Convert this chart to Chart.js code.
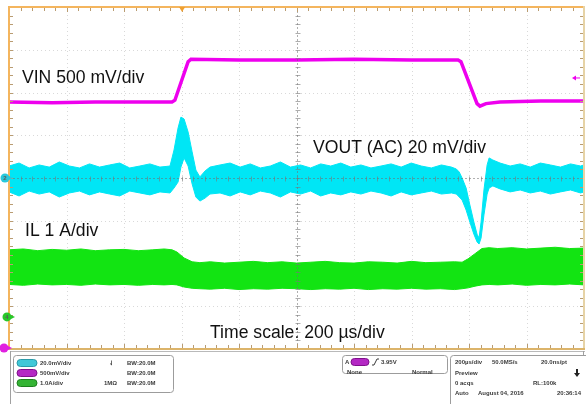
<!DOCTYPE html>
<html><head><meta charset="utf-8">
<script src="https://cdn.jsdelivr.net/npm/chart.js@4/dist/chart.umd.min.js"></script>
<style>html,body{margin:0;padding:0;background:#fff;overflow:hidden}#wrap{position:relative;width:586px;height:404px}</style>
</head><body><div id="wrap"><canvas id="c" width="586" height="404"></canvas></div>
<script>
// ---- time base (µs) ----
const vinTime  = [0,150,300,450,567,577,623,633,800,1000,1200,1400,1562,1572,1628,1638,1659,1708,1850,2000];
const vinVolts = [3.67,3.66,3.67,3.67,3.67,3.69,4.14,4.17,4.16,4.16,4.17,4.16,4.16,4.14,3.65,3.62,3.65,3.67,3.68,3.68];

const voutTime  = [0,35,70,105,140,175,210,245,280,315,350,385,420,455,490,525,560,
  574,588,598,609,623,637,650,664,682,699,
  734,769,804,839,874,909,944,979,1014,1049,1084,1119,1154,1189,1224,1259,1294,1329,1364,1399,1434,1469,1504,1539,
  1556,1566,1576,1590,1603,1617,1628,1635,1642,1652,1663,1670,1683,
  1708,1743,1778,1813,1848,1883,1918,1953,1988,2000];
const voutUpper = [5.6,7.0,4.7,6.1,5.1,7.5,5.6,4.7,6.6,5.1,6.1,7.0,4.7,5.6,6.6,5.1,5.6,
  13.1,23.4,28.5,27.6,21.5,12.2,3.7,0.5,3.3,5.1,
  6.1,7.0,5.1,6.6,4.7,5.6,7.5,5.1,6.1,4.7,6.6,5.6,7.0,5.1,6.1,4.7,5.6,6.6,5.1,7.0,5.6,4.7,6.1,5.1,
  4.2,2.8,0.0,-4.7,-12.6,-20.6,-26.3,-28.1,-20.6,-5.6,6.1,9.4,8.4,
  7.0,5.6,6.6,5.1,7.0,6.1,5.1,6.6,5.6,6.1];
const voutLower = [-6.5,-8.4,-6.1,-7.5,-6.5,-8.9,-7.0,-6.1,-7.9,-6.5,-7.5,-8.4,-6.1,-7.0,-7.9,-6.5,-7.0,
  -4.7,-1.9,5.1,9.4,5.6,-2.8,-8.9,-10.8,-9.4,-7.5,
  -7.0,-8.4,-6.5,-7.9,-6.1,-7.0,-8.9,-6.5,-7.5,-6.1,-8.4,-7.0,-7.9,-6.5,-7.5,-6.1,-7.0,-8.4,-6.5,-7.9,-7.0,-6.1,-7.5,-7.0,
  -7.5,-8.9,-10.3,-15.0,-20.6,-26.3,-29.9,-30.9,-28.1,-17.3,-7.5,-4.7,-3.7,
  -5.1,-6.5,-5.6,-7.0,-6.1,-7.5,-6.5,-5.6,-7.0,-6.5];

const ilTime  = [0,50,100,150,200,250,300,350,400,450,500,540,
  567,584,609,637,664,
  700,750,800,850,900,950,1000,1050,1100,1150,1200,1250,1300,1350,1400,1450,1500,1550,
  1576,1597,1621,1645,1670,
  1700,1750,1800,1850,1900,1950,2000];
const ilUpper = [1.57,1.59,1.55,1.58,1.56,1.59,1.55,1.57,1.58,1.55,1.57,1.59,
  1.57,1.52,1.38,1.29,1.27,
  1.29,1.26,1.28,1.30,1.27,1.29,1.26,1.28,1.30,1.27,1.26,1.29,1.28,1.26,1.30,1.27,1.28,1.29,
  1.28,1.36,1.48,1.60,1.62,
  1.60,1.62,1.59,1.61,1.63,1.60,1.61];
const ilLower = [0.76,0.74,0.77,0.75,0.76,0.74,0.77,0.75,0.76,0.74,0.76,0.75,
  0.76,0.75,0.70,0.67,0.66,
  0.65,0.67,0.64,0.66,0.65,0.67,0.66,0.64,0.66,0.65,0.67,0.64,0.66,0.65,0.67,0.65,0.66,0.64,
  0.66,0.68,0.72,0.75,0.76,
  0.75,0.77,0.74,0.76,0.75,0.77,0.75];

const labels = ["VIN 500 mV/div","VOUT (AC) 20 mV/div","IL 1 A/div","Time scale: 200 \u00B5s/div"];
const triggerLevelV = 3.95;
const triggerTimeUs = 602;

const pts = (xs, ys) => xs.map((t,i)=>({x:t,y:ys[i]}));
const CYAN='#00e6f5', GREEN='#12e412', MAG='#ee00ee';

const scope = {
  id:'scope',
  beforeDatasetsDraw(chart){
    const {ctx, chartArea:a, scales} = chart; const x=scales.x, y=scales.yv;
    ctx.save();
    ctx.strokeStyle='rgba(170,170,170,0.45)'; ctx.lineWidth=1; ctx.setLineDash([1,3]);
    for(let t=200;t<2000;t+=200){ if(t===1000) continue; const p=Math.round(x.getPixelForValue(t))+0.5; ctx.beginPath(); ctx.moveTo(p,a.top); ctx.lineTo(p,a.bottom); ctx.stroke(); }
    for(let v=-60;v<=60;v+=20){ if(v===0) continue; const p=Math.round(y.getPixelForValue(v))+0.5; ctx.beginPath(); ctx.moveTo(a.left,p); ctx.lineTo(a.right,p); ctx.stroke(); }
    ctx.restore();
  },
  afterDatasetsDraw(chart){
    const {ctx, chartArea:a, scales} = chart; const x=scales.x, y=scales.yv, yi=scales.yi, yin=scales.yin;
    ctx.save();
    // center cross
    const cx=Math.round(x.getPixelForValue(1000))+0.5, cy=Math.round(y.getPixelForValue(0))+0.5;
    ctx.strokeStyle='rgba(110,110,110,0.55)'; ctx.lineWidth=1; ctx.setLineDash([2,2]);
    ctx.beginPath(); ctx.moveTo(cx,a.top); ctx.lineTo(cx,a.bottom); ctx.moveTo(a.left,cy); ctx.lineTo(a.right,cy); ctx.stroke();
    ctx.setLineDash([]); ctx.strokeStyle='rgba(120,120,120,0.6)';
    ctx.beginPath();
    for(let t=0;t<=2000;t+=40){ const p=Math.round(x.getPixelForValue(t))+0.5; ctx.moveTo(p,cy-2); ctx.lineTo(p,cy+3); }
    for(let v=-80;v<=80;v+=4){ const p=Math.round(y.getPixelForValue(v))+0.5; ctx.moveTo(cx-2,p); ctx.lineTo(cx+3,p); }
    ctx.stroke();
    // frame
    ctx.fillStyle='#f4b55e'; ctx.fillRect(a.left-1,a.top-1,a.width,2); ctx.fillRect(a.left-1,a.top-1,2,a.height+2);
    ctx.fillStyle='#e6d3a6'; ctx.fillRect(a.right-1,a.top-1,2,a.height+2);
    ctx.fillStyle='#dcb46a'; ctx.fillRect(a.left-1,a.bottom-1,a.width+2,2);
    ctx.fillStyle='#b9b9b9'; ctx.fillRect(a.left+1,a.bottom+2,a.width,1);
    ctx.strokeStyle='#b99c72'; ctx.beginPath();
    for(let t=40;t<2000;t+=40){ const p=Math.round(x.getPixelForValue(t))+0.5; ctx.moveTo(p,a.top+1); ctx.lineTo(p,a.top+(t%200===0?5:4)); ctx.moveTo(p,a.bottom-1); ctx.lineTo(p,a.bottom-(t%200===0?5:4)); }
    for(let v=-76;v<80;v+=4){ const p=Math.round(y.getPixelForValue(v))+0.5; ctx.moveTo(a.left+1,p); ctx.lineTo(a.left+4,p); ctx.moveTo(a.right-1,p); ctx.lineTo(a.right-4,p); }
    ctx.stroke();
    // channel markers
    const mark=(mx,my,col,txt)=>{ ctx.fillStyle=col; ctx.beginPath(); ctx.arc(mx,my,4.5,0,Math.PI*2); ctx.fill(); ctx.beginPath(); ctx.moveTo(mx+4,my-2); ctx.lineTo(mx+8,my); ctx.lineTo(mx+4,my+2); ctx.fill(); if(txt){ctx.fillStyle='#5a5a5a'; ctx.font='bold 6px "Liberation Sans"'; ctx.textAlign='center'; ctx.textBaseline='middle'; ctx.fillText(txt,mx,my+0.5); ctx.textAlign='left';} };
    mark(5,y.getPixelForValue(0),'#28c8dc','2');
    mark(7,yi.getPixelForValue(0),'#28c828','4');
    mark(4,a.bottom-1,'#e020e0','');
    // trigger position marker
    const tp=x.getPixelForValue(triggerTimeUs);
    ctx.fillStyle='#f0a030'; ctx.beginPath(); ctx.moveTo(tp-3,a.top); ctx.lineTo(tp+3,a.top); ctx.lineTo(tp,a.top+5); ctx.fill();
    // trigger level marker
    const tl=yin.getPixelForValue(triggerLevelV);
    ctx.fillStyle=MAG; ctx.beginPath(); ctx.moveTo(572,tl); ctx.lineTo(576,tl-2.5); ctx.lineTo(576,tl+2.5); ctx.fill(); ctx.fillRect(576,tl-0.5,4,1);
    // labels
    ctx.fillStyle='#111'; ctx.font='17.6px "Liberation Sans", Arial, sans-serif'; ctx.textBaseline='alphabetic'; ctx.textAlign='left';
    ctx.fillText(labels[0],22,83);
    ctx.fillText(labels[1],313,152.5);
    ctx.fillText(labels[2],25,236);
    ctx.fillText(labels[3],210,337.5);
    // bottom status panel
    ctx.fillStyle='#a0a0a0'; ctx.fillRect(10,351,1,53); ctx.fillRect(a.right-1,351,1,53);
    const box=(bx,by,bw,bh)=>{ ctx.fillStyle='#fff'; ctx.strokeStyle='#9c9c9c'; ctx.lineWidth=1; ctx.beginPath(); ctx.roundRect(bx+0.5,by+0.5,bw,bh,3); ctx.fill(); ctx.stroke(); };
    const pill=(px,py,col,dark)=>{ ctx.fillStyle=col; ctx.strokeStyle=dark; ctx.beginPath(); ctx.roundRect(px,py-3.5,20,7,3.5); ctx.fill(); ctx.stroke(); };
    box(13,355,160,37); box(342,355,105,18); box(450,355,150,60);
    pill(17,363,'#40c8d8','#2a9aa8'); pill(17,373,'#b428c4','#80108c'); pill(17,383,'#34b434','#1e801e');
    ctx.font='bold 6px "Liberation Sans", Arial, sans-serif'; ctx.fillStyle='#3a3a3a'; ctx.textBaseline='middle';
    const T=(s,tx,ty)=>ctx.fillText(s,tx,ty);
    T('20.0mV/div',40,363); T('500mV/div',40,373); T('1.0A/div',40,383);
    T('\u21C3',109,363); T('1M\u03A9',104,383);
    T('BW:20.0M',127,363); T('BW:20.0M',127,373); T('BW:20.0M',127,383);
    T('A',345,362); ctx.save(); ctx.beginPath(); ctx.fillStyle='#b428c4'; ctx.strokeStyle='#80108c'; ctx.roundRect(351,358.5,18,7,3.5); ctx.fill(); ctx.stroke(); ctx.restore();
    ctx.strokeStyle='#3a3a3a'; ctx.beginPath(); ctx.moveTo(372,365); ctx.lineTo(374,365); ctx.lineTo(377,359); ctx.lineTo(379,359); ctx.stroke();
    T('3.95V',381,362); T('None',347,372); T('Normal',412,372);
    T('200\u00B5s/div',455,362); T('50.0MS/s',492,362); T('20.0ns/pt',541,362);
    T('Preview',455,373); T('0 acqs',455,383); T('RL:100k',533,383);
    T('Auto',455,393); T('August 04, 2016',478,393); T('20:36:14',557,393);
    ctx.fillStyle='#222'; ctx.fillRect(576,369,2,5); ctx.beginPath(); ctx.moveTo(574,373); ctx.lineTo(580,373); ctx.lineTo(577,377); ctx.fill();
    ctx.restore();
  }
};

new Chart(document.getElementById('c'), {
  type:'line',
  data:{ datasets:[
    {label:'IL upper', data:pts(ilTime,ilUpper), yAxisID:'yi', borderColor:GREEN, borderWidth:1, backgroundColor:GREEN, fill:false, pointRadius:0, tension:0, order:3},
    {label:'IL lower', data:pts(ilTime,ilLower), yAxisID:'yi', borderColor:GREEN, borderWidth:1, backgroundColor:GREEN, fill:0, pointRadius:0, tension:0, order:3},
    {label:'VOUT upper', data:pts(voutTime,voutUpper), yAxisID:'yv', borderColor:CYAN, borderWidth:1, backgroundColor:CYAN, fill:false, pointRadius:0, tension:0, order:2},
    {label:'VOUT lower', data:pts(voutTime,voutLower), yAxisID:'yv', borderColor:CYAN, borderWidth:1, backgroundColor:CYAN, fill:2, pointRadius:0, tension:0, order:2},
    {label:'VIN', data:pts(vinTime,vinVolts), yAxisID:'yin', borderColor:MAG, borderWidth:3.5, fill:false, pointRadius:0, tension:0, order:1}
  ]},
  options:{
    responsive:false, animation:false, devicePixelRatio:1,
    layout:{padding:{left:9,top:7,right:2,bottom:55}},
    plugins:{legend:{display:false}, tooltip:{enabled:false}},
    scales:{
      x:{type:'linear', min:0, max:2000, display:false},
      yv:{type:'linear', min:-80, max:80, display:false},
      yi:{type:'linear', min:-0.75, max:7.25, display:false},
      yin:{type:'linear', min:0.78, max:4.78, display:false}
    }
  },
  plugins:[scope]
});
</script></body></html>
